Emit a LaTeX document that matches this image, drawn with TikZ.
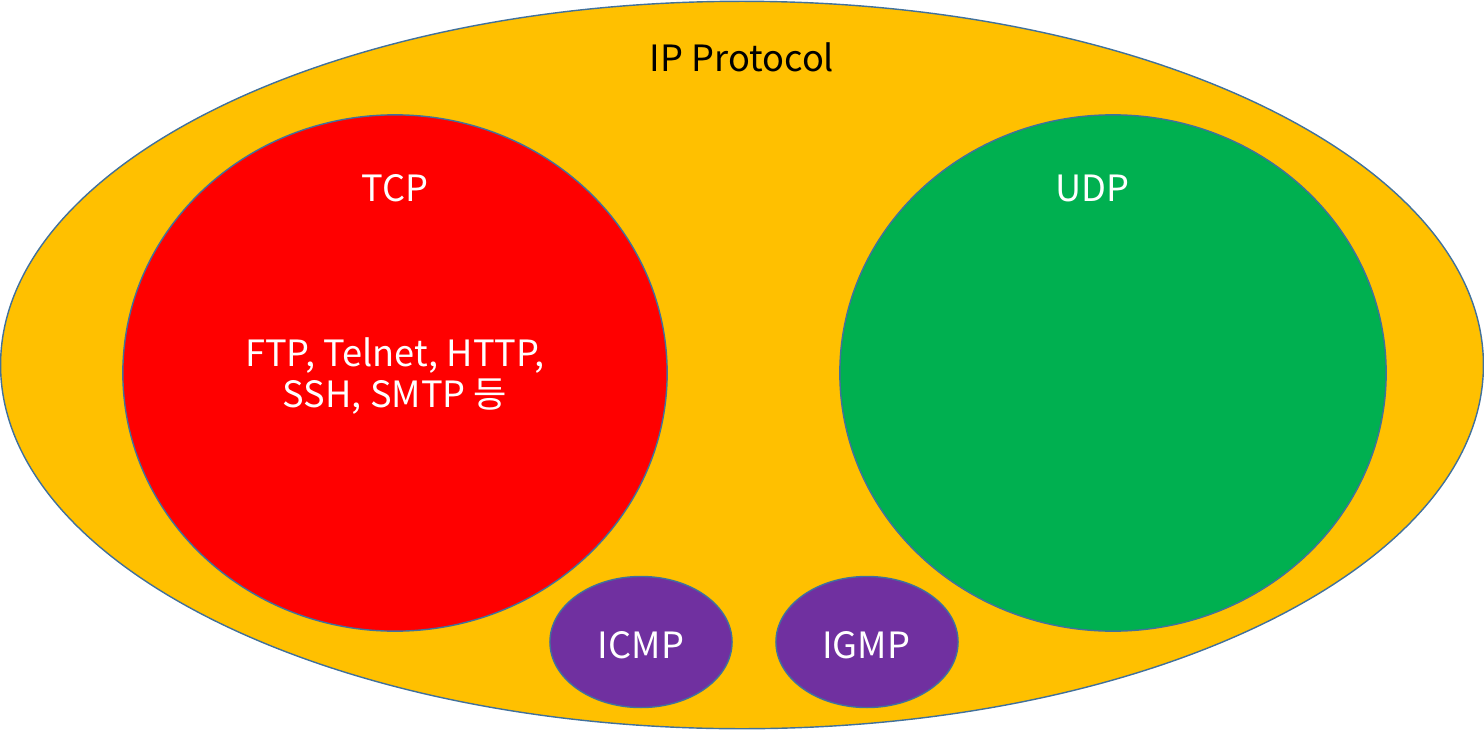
\documentclass[tikz,border=0pt]{standalone}
\usepackage{fontspec}
\setmainfont{Noto Sans CJK KR}
\usetikzlibrary{shapes.geometric}
\definecolor{ipc}{HTML}{FFC000}
\definecolor{tcpc}{HTML}{FF0000}
\definecolor{udpc}{HTML}{00B050}
\definecolor{subc}{HTML}{7030A0}
\definecolor{edgec}{HTML}{41719C}
\tikzset{
  blob/.style={ellipse, draw=edgec, line width=0.4pt, inner sep=0pt},
  txt/.style={font=\fontsize{10.3}{11.4}\selectfont, align=center, inner sep=0pt},
}
\begin{document}
\begin{tikzpicture}[x=0.01cm, y=-0.01cm]
  \useasboundingbox (0,0) rectangle (1484,730);
  % outer IP ellipse
  \node[blob, fill=ipc, minimum width=14.82cm, minimum height=7.27cm] (ip) at (742,365) {};
  \node[txt, black] (iplab) at (742,57) {IP Protocol};
  % TCP / UDP
  \node[blob, fill=tcpc, minimum width=5.44cm, minimum height=5.16cm] (tcp) at (395,373) {};
  \node[blob, fill=udpc, minimum width=5.46cm, minimum height=5.16cm] (udp) at (1113,373) {};
  \node[txt, white] (tcplab) at (395,188) {TCP};
  \node[txt, white] (udplab) at (1092,188) {UDP};
  \node[txt, white] (apps) at (395,376) {FTP, Telnet, HTTP,\\SSH, SMTP 등};
  % ICMP / IGMP
  \node[blob, fill=subc, minimum width=1.82cm, minimum height=1.31cm] (icmp) at (641,642) {};
  \node[blob, fill=subc, minimum width=1.82cm, minimum height=1.31cm] (igmp) at (867,642) {};
  \node[txt, white] (icmplab) at (641,645) {ICMP};
  \node[txt, white] (igmplab) at (866,645) {IGMP};
\end{tikzpicture}
\end{document}
